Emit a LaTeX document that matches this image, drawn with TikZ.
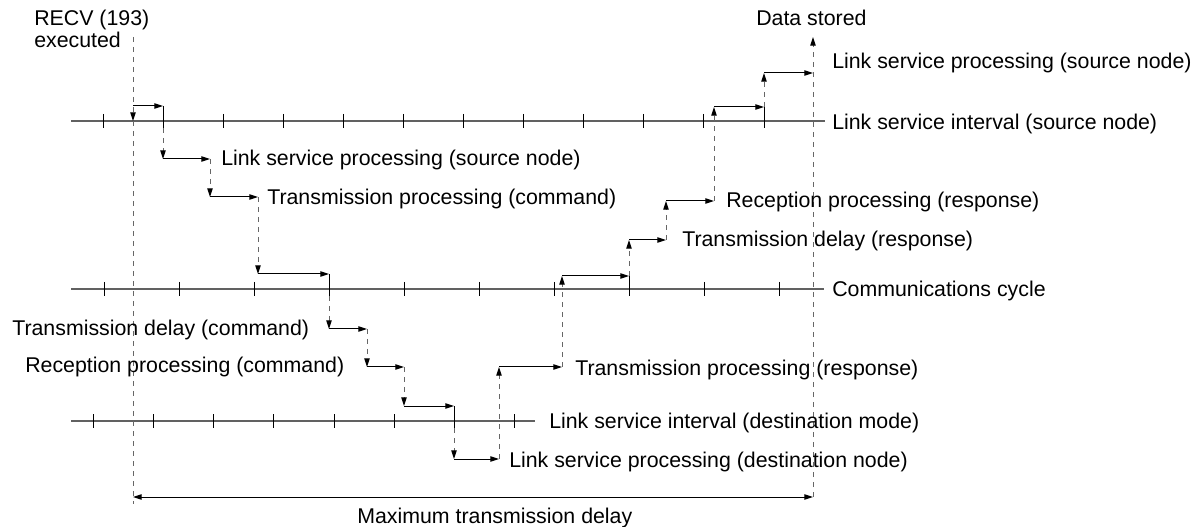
\documentclass[tikz,border=0pt]{standalone}
\usepackage{fontspec}
\setmainfont{Liberation Sans}
\usetikzlibrary{arrows.meta}
\begin{document}
\begin{tikzpicture}[x=0.75pt,y=-0.75pt,
  axis/.style={draw=black!62, line width=0.8pt},
  tickmark/.style={draw=black, line width=0.75pt},
  dsh/.style={draw=black!60, line width=0.75pt, dash pattern=on 3.5pt off 4pt},
  arr/.style={draw=black, line width=0.75pt, -{Triangle[length=6.5pt,width=4pt]}},
  darr/.style={dsh, -{Triangle[length=6.5pt,width=4pt,black]}},
  lbl/.style={anchor=base west, inner sep=0pt, font=\fontsize{16pt}{19pt}\selectfont, text=black}]

\useasboundingbox (0,0) rectangle (1200,527);

% ---- time axes ----
\coordinate (a1s) at (71,121);  \coordinate (a1e) at (825,121);
\coordinate (a2s) at (71,289);  \coordinate (a2e) at (824,289);
\coordinate (a3s) at (71,421);  \coordinate (a3e) at (535,421);
\draw[axis] (a1s) -- (a1e);
\draw[axis] (a2s) -- (a2e);
\draw[axis] (a3s) -- (a3e);
\foreach \x in {103,163,223,283,343,403,463,523,583,643,703,764}
  \draw[tickmark] (\x,114) -- (\x,128);
\foreach \x in {104,179,254,329,404,479,554,629,704,779}
  \draw[tickmark] (\x,282) -- (\x,296);
\foreach \x in {93,153,213,273,334,394,454,514}
  \draw[tickmark] (\x,414) -- (\x,428);

% ---- key points ----
\coordinate (s0) at (133,37);
\coordinate (s0b) at (133,121);
\coordinate (s0e) at (133,504);
\coordinate (p1) at (133,106); \coordinate (p2) at (163,106);
\coordinate (p2t) at (163,128);
\coordinate (p3) at (163,159); \coordinate (p4) at (210,159);
\coordinate (p5) at (210,197); \coordinate (p6) at (258,197);
\coordinate (p7) at (258,274); \coordinate (p8) at (329,274);
\coordinate (p8t) at (329,296);
\coordinate (p9) at (329,329); \coordinate (p10) at (367,329);
\coordinate (p11) at (367,367); \coordinate (p12) at (404,367);
\coordinate (p13) at (404,406); \coordinate (p14) at (454,406);
\coordinate (p14t) at (454,428);
\coordinate (p15) at (454,459); \coordinate (p16) at (499,459);
\coordinate (q1) at (499,367); \coordinate (q2) at (562,367);
\coordinate (q3) at (562,276); \coordinate (q4) at (629,276);
\coordinate (q4t) at (629,296);
\coordinate (q5) at (629,240); \coordinate (q6) at (666,240);
\coordinate (q7) at (666,201); \coordinate (q8) at (714,201);
\coordinate (q9) at (714,107); \coordinate (q10) at (764,107);
\coordinate (q10t) at (764,128);
\coordinate (q11) at (764,73); \coordinate (q12) at (813,73);
\coordinate (e0) at (813,497); \coordinate (e1) at (813,37);
\coordinate (d0) at (133,497);

% ---- left / right event lines ----
\draw[darr] (s0) -- (s0b);
\draw[dsh] (s0b) -- (s0e);
\draw[darr] (e0) -- (e1);

% ---- command path ----
\draw[arr] (p1) -- (p2);
\draw[tickmark] (p2) -- (p2t);
\draw[darr] (p2t) -- (p3);
\draw[arr] (p3) -- (p4);
\draw[darr] (p4) -- (p5);
\draw[arr] (p5) -- (p6);
\draw[darr] (p6) -- (p7);
\draw[arr] (p7) -- (p8);
\draw[tickmark] (p8) -- (p8t);
\draw[darr] (p8t) -- (p9);
\draw[arr] (p9) -- (p10);
\draw[darr] (p10) -- (p11);
\draw[arr] (p11) -- (p12);
\draw[darr] (p12) -- (p13);
\draw[arr] (p13) -- (p14);
\draw[tickmark] (p14) -- (p14t);
\draw[darr] (p14t) -- (p15);
\draw[arr] (p15) -- (p16);

% ---- response path ----
\draw[darr] (p16) -- (q1);
\draw[arr] (q1) -- (q2);
\draw[darr] (q2) -- (q3);
\draw[arr] (q3) -- (q4);
\draw[tickmark] (q4) -- (q4t);
\draw[darr] (q4) -- (q5);
\draw[arr] (q5) -- (q6);
\draw[darr] (q6) -- (q7);
\draw[arr] (q7) -- (q8);
\draw[darr] (q8) -- (q9);
\draw[arr] (q9) -- (q10);
\draw[tickmark] (q10) -- (q10t);
\draw[darr] (q10) -- (q11);
\draw[arr] (q11) -- (q12);

% ---- dimension ----
\draw[draw=black, line width=0.75pt, {Triangle[length=6.5pt,width=4pt]}-{Triangle[length=6.5pt,width=4pt]}] (d0) -- (e0);

% ---- labels ----
\node[lbl] (recv) at (34,26) {RECV (193)};
\node[lbl] (exec) at (34,48) {executed};
\node[lbl] (data) at (756,26) {Data stored};
\node[lbl] (lsp1) at (832,69) {Link service processing (source node)};
\node[lbl] (lsi1) at (832,130) {Link service interval (source node)};
\node[lbl] (lsp2) at (221,166) {Link service processing (source node)};
\node[lbl] (tpc) at (267,205) {Transmission processing (command)};
\node[lbl] (rpr) at (726,208) {Reception processing (response)};
\node[lbl] (tdr) at (682,247) {Transmission delay (response)};
\node[lbl] (cc) at (832,297) {Communications cycle};
\node[lbl] (tdc) at (12,335) {Transmission delay (command)};
\node[lbl] (rpc) at (25,373) {Reception processing (command)};
\node[lbl] (tpr) at (575,375) {Transmission processing (response)};
\node[lbl] (lsid) at (549,428) {Link service interval (destination mode)};
\node[lbl] (lspd) at (509,467) {Link service processing (destination node)};
\node[lbl] (mtd) at (357,523) {Maximum transmission delay};
\end{tikzpicture}
\end{document}
